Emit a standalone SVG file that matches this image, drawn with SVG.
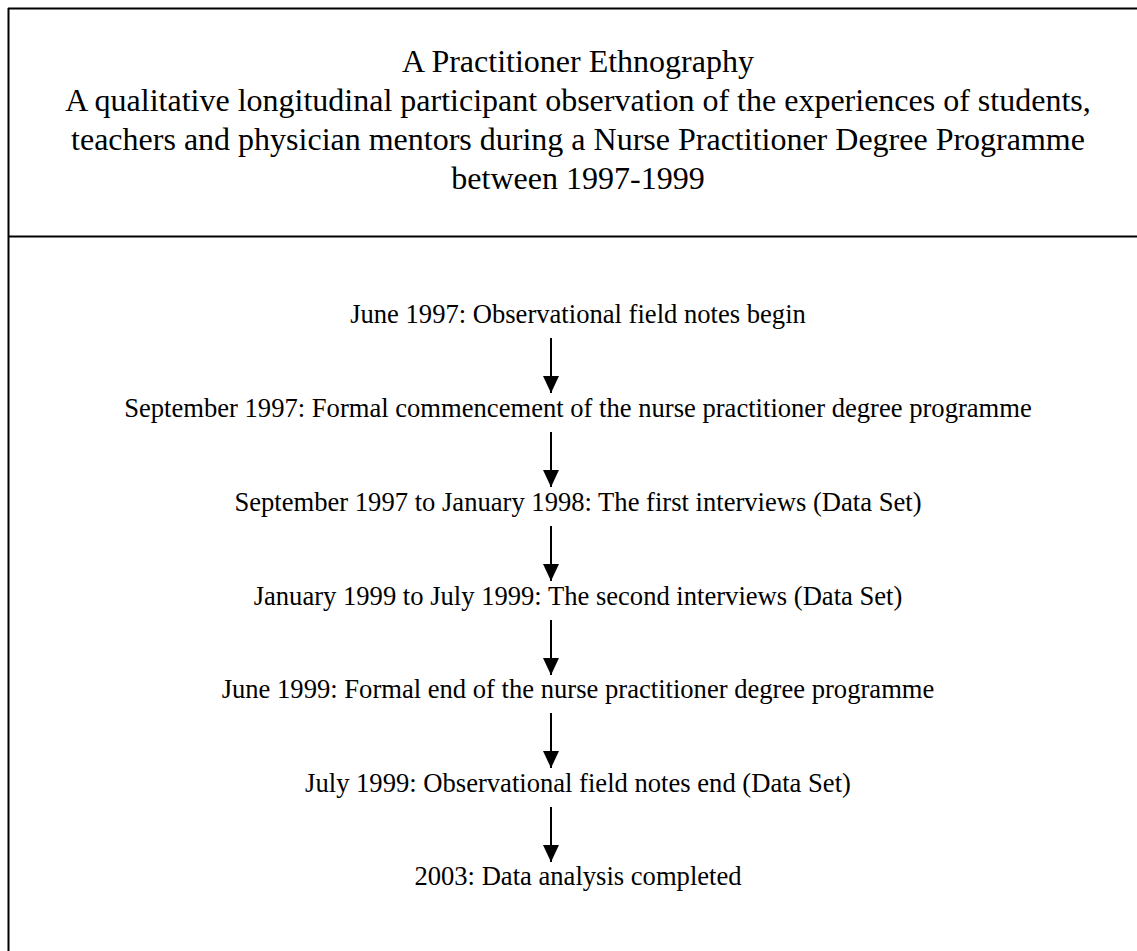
<svg xmlns="http://www.w3.org/2000/svg" width="1137" height="951" viewBox="0 0 1137 951">
  <style>
    .frame { stroke: #000; stroke-width: 2; fill: none; }
    .title { font-family: "Liberation Serif", "Times New Roman", serif; font-size: 32px; fill: #000; text-anchor: middle; }
    .step { font-family: "Liberation Serif", "Times New Roman", serif; font-size: 26.6px; fill: #000; text-anchor: middle; }
    .link { stroke: #000; stroke-width: 2; fill: none; }
  </style>
  <defs>
    <marker id="arrowhead" viewBox="0 0 17 16" refX="17" refY="8" markerWidth="17" markerHeight="16" markerUnits="userSpaceOnUse" orient="auto">
      <path d="M0,0 L17,8 L0,16 Z" fill="#000"/>
    </marker>
  </defs>
  <rect width="1137" height="951" fill="#fff"/>

  <!-- outer frame: top edge, left edge, header divider -->
  <g id="frame">
    <line class="frame" x1="8" y1="8.5" x2="1137" y2="8.5"/>
    <line class="frame" x1="8.5" y1="8" x2="8.5" y2="951"/>
    <line class="frame" x1="8" y1="236.5" x2="1137" y2="236.5"/>
  </g>

  <g id="header">
    <text class="title" x="578" y="72">A Practitioner Ethnography</text>
    <text class="title" x="578" y="111">A qualitative longitudinal participant observation of the experiences of students,</text>
    <text class="title" x="578" y="150">teachers and physician mentors during a Nurse Practitioner Degree Programme</text>
    <text class="title" x="578" y="189">between 1997-1999</text>
  </g>

  <g id="step1"><text class="step" x="578" y="323">June 1997: Observational field notes begin</text></g>
  <g id="step2"><text class="step" x="578" y="417">September 1997: Formal commencement of the nurse practitioner degree programme</text></g>
  <g id="step3"><text class="step" x="578" y="511">September 1997 to January 1998: The first interviews (Data Set)</text></g>
  <g id="step4"><text class="step" x="578" y="605">January 1999 to July 1999: The second interviews (Data Set)</text></g>
  <g id="step5"><text class="step" x="578" y="698">June 1999: Formal end of the nurse practitioner degree programme</text></g>
  <g id="step6"><text class="step" x="578" y="792">July 1999: Observational field notes end (Data Set)</text></g>
  <g id="step7"><text class="step" x="578" y="885">2003: Data analysis completed</text></g>

  <g id="connectors">
    <line class="link" x1="551" y1="338" x2="551" y2="393" marker-end="url(#arrowhead)"/>
    <line class="link" x1="551" y1="432" x2="551" y2="487" marker-end="url(#arrowhead)"/>
    <line class="link" x1="551" y1="526" x2="551" y2="581" marker-end="url(#arrowhead)"/>
    <line class="link" x1="551" y1="620" x2="551" y2="675" marker-end="url(#arrowhead)"/>
    <line class="link" x1="551" y1="713" x2="551" y2="768" marker-end="url(#arrowhead)"/>
    <line class="link" x1="551" y1="807" x2="551" y2="862" marker-end="url(#arrowhead)"/>
  </g>
</svg>
